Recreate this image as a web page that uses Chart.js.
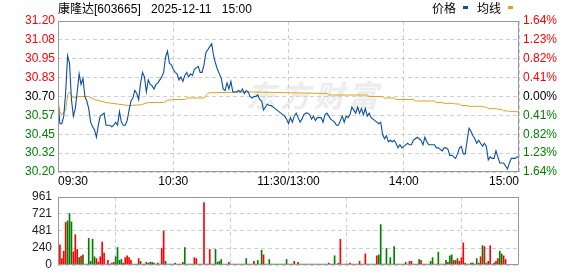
<!DOCTYPE html>
<html>
<head>
<meta charset="utf-8">
<script src="https://cdn.jsdelivr.net/npm/chart.js"></script>
<style>
html, body { margin: 0; padding: 0; background: #fff; }
#wrap { position: relative; width: 578px; height: 276px; overflow: hidden;
  font-family: "Liberation Sans", "Noto Sans CJK SC", sans-serif; font-size: 12px; color: #000; }
#wrap canvas { position: absolute; left: 0; }
#price { top: 0; }
#vol { top: 185px; }
.txt { position: absolute; line-height: 14px; white-space: pre; }
.mark { position: absolute; width: 5px; height: 3px; }
#wm { position: absolute; left: 246px; top: 72px; font: italic bold 30px "Noto Sans CJK SC"; color: #ededed; letter-spacing: 4px; }
</style>
</head>
<body>
<div id="wrap">
  <div id="wm">东方财富</div>
  <canvas id="price" width="578" height="190" style="width:578px;height:190px"></canvas>
  <canvas id="vol" width="578" height="92" style="width:578px;height:92px"></canvas>
  <div class="txt" id="title" style="left:58px;top:2px;word-spacing:7px"></div>
  <div class="txt" id="lg1" style="left:432px;top:2px"></div>
  <div class="mark" style="left:463px;top:6px;background:#0b4ea2"></div>
  <div class="txt" id="lg2" style="left:477px;top:2px"></div>
  <div class="mark" style="left:508px;top:6px;background:#e0a21c"></div>
</div>
<script>
var titleText = '康隆达[603665] 2025-12-11 15:00';
var seriesNames = ['价格', '均线'];

// minute index 0..240 (09:30-11:30, 13:00-15:00)
var timeTickPos = [0, 60, 120, 180, 240];
var timeLabels = ['09:30', '10:30', '11:30/13:00', '14:00', '15:00'];

// bottom to top
var priceTicks = ['30.20', '30.32', '30.45', '30.57', '30.70', '30.83', '30.95', '31.08', '31.20'];
var pctTicks = ['1.64%', '1.23%', '0.82%', '0.41%', '0.00%', '0.41%', '0.82%', '1.23%', '1.64%'];
var volTicks = [0, 240, 481, 721, 961];

var prices = [
  30.67,30.52,30.52,30.57,30.73,30.97,30.92,30.68,30.57,30.62,
  30.73,30.85,30.78,30.82,30.70,30.67,30.62,30.53,30.50,30.48,
  30.43,30.51,30.57,30.58,30.59,30.51,30.51,30.51,30.50,30.51,
  30.53,30.51,30.60,30.53,30.51,30.51,30.54,30.61,30.67,30.69,
  30.74,30.72,30.68,30.79,30.86,30.83,30.73,30.81,30.78,30.77,
  30.75,30.78,30.79,30.81,30.83,30.86,30.96,31.00,30.92,30.91,
  30.88,30.86,30.85,30.81,30.83,30.80,30.84,30.86,30.83,30.85,
  30.84,30.88,30.89,30.90,30.86,30.86,30.91,30.99,31.01,31.03,
  31.05,30.97,30.92,30.88,30.85,30.82,30.75,30.74,30.79,30.75,
  30.80,30.73,30.73,30.73,30.74,30.73,30.75,30.72,30.74,30.73,
  30.70,30.69,30.70,30.70,30.71,30.68,30.67,30.61,30.63,30.65,
  30.64,30.64,30.63,30.62,30.61,30.60,30.59,30.58,30.57,30.55,
  30.52,30.56,30.53,30.57,30.59,30.56,30.53,30.55,30.58,30.59,
  30.59,30.58,30.55,30.57,30.54,30.56,30.56,30.56,30.53,30.58,
  30.59,30.57,30.55,30.54,30.53,30.51,30.51,30.54,30.57,30.53,
  30.57,30.56,30.58,30.63,30.61,30.59,30.63,30.59,30.62,30.58,
  30.62,30.57,30.59,30.56,30.55,30.54,30.53,30.52,30.53,30.45,
  30.42,30.44,30.40,30.41,30.40,30.41,30.39,30.36,30.38,30.36,
  30.37,30.38,30.39,30.38,30.38,30.41,30.42,30.43,30.42,30.41,
  30.38,30.43,30.40,30.38,30.38,30.38,30.38,30.36,30.36,30.35,
  30.34,30.36,30.36,30.35,30.31,30.31,30.30,30.29,30.32,30.36,
  30.37,30.32,30.32,30.41,30.49,30.47,30.44,30.42,30.39,30.41,
  30.39,30.37,30.39,30.37,30.28,30.30,30.29,30.29,30.34,30.30,
  30.26,30.26,30.26,30.24,30.22,30.26,30.29,30.29,30.29,30.30,
  30.30
];

// average line, read where it changes
var avgMin = [0,1,2,4,5,6,8,11,16,19,25,31,37,43,47,55,57,60,66,67,76,78,79,100,120,
  140,141,161,162,169,170,175,176,185,186,196,197,200,201,206,207,209,210,213,214,
  221,222,223,224,228,229,231,232,234,235,239,240];
var avgVal = [30.67,30.60,30.58,30.61,30.71,30.73,30.69,30.70,30.70,30.68,30.66,30.65,30.64,30.645,30.66,30.66,30.675,30.68,30.68,30.69,30.69,30.72,30.725,30.73,30.725,
  30.72,30.71,30.71,30.70,30.70,30.69,30.69,30.68,30.68,30.67,30.67,30.66,30.66,30.655,30.655,30.65,30.65,30.64,30.64,30.635,
  30.635,30.63,30.63,30.62,30.62,30.615,30.615,30.605,30.605,30.60,30.60,30.59];

var volumes = [
  377,286,91,195,602,624,727,610,186,429,
  221,104,126,143,13,13,377,52,364,117,
  91,39,117,325,169,13,65,13,26,39,
  117,247,65,78,26,104,130,104,65,13,
  13,13,91,52,13,13,39,26,39,39,
  26,13,26,13,234,481,52,13,13,13,
  13,26,13,13,13,39,247,13,13,13,
  13,104,91,13,13,13,883,13,13,221,
  13,13,221,39,52,78,13,13,13,39,
  13,13,13,13,13,13,13,13,91,13,
  13,13,52,13,65,13,208,143,13,13,
  78,13,13,13,13,13,13,13,13,78,
  13,13,13,52,13,39,13,13,13,13,
  13,13,13,13,13,13,13,13,13,13,
  13,26,13,13,130,13,26,364,13,13,
  13,13,26,13,13,13,13,52,13,13,
  156,13,13,13,13,13,130,143,572,13,
  13,234,13,104,13,260,13,13,13,13,
  13,39,13,52,52,13,13,13,78,65,
  13,13,13,13,52,104,13,13,182,13,
  13,13,65,39,130,143,65,65,91,52,
  104,312,26,13,13,26,26,13,91,26,
  117,273,260,26,52,273,13,26,52,91,
  195,156,130,78,0,0,0,0,0,0,
  78
];

// 1 = minute closed up, 0 = down
var volUp = [
  0,1,1,1,1,0,0,0,1,1, 1,0,1,0,0,0,0,0,0,0, 1,1,1,1,1,0,1,0,1,1, 0,0,0,0,1,1,1,1,1,0,
  0,0,1,0,0,0,1,0,0,0, 1,0,1,1,1,1,0,0,0,0, 0,1,0,0,0,1,0,0,0,0, 0,1,1,0,0,1,1,1,1,1,
  0,0,0,0,0,0,0,0,1,1, 0,0,0,0,0,0,0,0,0,0, 1,0,1,1,0,1,0,1,0,0, 0,0,0,0,0,0,0,0,1,0,
  0,1,1,1,0,0,0,0,1,1, 1,0,0,0,0,1,1,1,1,1, 1,1,0,0,0,0,1,1,0,0, 0,0,1,1,0,0,0,1,0,0,
  1,0,0,0,0,0,1,0,0,0, 0,0,1,0,1,0,1,1,1,1, 1,0,1,1,1,0,1,0,0,1, 0,1,1,1,0,0,1,1,0,1,
  0,1,0,1,0,0,1,1,0,1, 1,1,0,0,0,1,1,0,0,1, 1,0,1,0,1,1,0,0,1,1, 0,0,1,1,0,0,0,0,0,0,
  1
];

var BLUE = '#0b4ea2', ORANGE = '#e0a21c', RED = '#ff0000', GREEN = '#008000';
var GRID = '#d0d0d0', FRAME = '#999999';
var FONT = { family: '"Liberation Sans", "Noto Sans CJK SC", sans-serif', size: 12, lineHeight: 1 };

document.getElementById('title').textContent = titleText;
document.getElementById('lg1').textContent = seriesNames[0];
document.getElementById('lg2').textContent = seriesNames[1];

var frame = {
  id: 'frame',
  afterDraw: function (c) {
    var a = c.chartArea, ctx = c.ctx;
    ctx.save();
    ctx.strokeStyle = FRAME;
    ctx.lineWidth = 1;
    ctx.strokeRect(Math.round(a.left) + 0.5, Math.round(a.top) + 0.5,
      Math.round(a.right - a.left) - 1, Math.round(a.bottom - a.top) - 1);
    ctx.restore();
  }
};

function evenTicks(labels) {
  return function (s) {
    var step = (s.max - s.min) / (labels.length - 1);
    s.ticks = labels.map(function (l, k) { return { value: s.min + k * step }; });
  };
}
// below the previous close green, above red
function sideColor(ctx) {
  if (ctx.index > 4) return RED;
  if (ctx.index == 4) return '#000';
  return GREEN;
}

new Chart(document.getElementById('price'), {
  type: 'line',
  data: {
    datasets: [{
      label: seriesNames[0],
      data: prices.map(function (p, i) { return { x: i, y: p }; }),
      borderColor: BLUE, borderWidth: 1.1, pointRadius: 0, yAxisID: 'y'
    }, {
      label: seriesNames[1],
      data: avgMin.map(function (m, k) { return { x: m, y: avgVal[k] }; }),
      borderColor: ORANGE, borderWidth: 1, pointRadius: 0, yAxisID: 'y'
    }]
  },
  options: {
    responsive: false, animation: false, events: [],
    layout: { padding: { top: 21, left: 0, right: 0, bottom: 0 } },
    plugins: { legend: { display: false }, tooltip: { enabled: false } },
    scales: {
      x: {
        type: 'linear', min: 0, max: 240,
        afterBuildTicks: function (s) { s.ticks = timeTickPos.map(function (v) { return { value: v }; }); },
        afterFit: function (s) { s.height = 18; },
        ticks: { autoSkip: false, maxRotation: 0, align: 'inner', padding: 4, color: '#000', font: FONT,
          callback: function (v, i) { return timeLabels[i]; } },
        grid: { color: GRID, drawTicks: false },
        border: { display: false, dash: [4, 3] }
      },
      y: {
        position: 'left', min: 30.20, max: 31.20,
        afterBuildTicks: evenTicks(priceTicks),
        afterFit: function (s) { s.width = 58; },
        ticks: { autoSkip: false, padding: 3, font: FONT, color: sideColor,
          callback: function (v, i) { return priceTicks[i]; } },
        grid: { color: GRID, drawTicks: false },
        border: { display: false, dash: [4, 3] }
      },
      y2: {
        position: 'right', min: 30.20, max: 31.20,
        afterBuildTicks: evenTicks(pctTicks),
        afterFit: function (s) { s.width = 59; },
        ticks: { autoSkip: false, padding: 4, font: FONT, color: sideColor,
          callback: function (v, i) { return pctTicks[i]; } },
        grid: { display: false, drawTicks: false },
        border: { display: false }
      }
    }
  },
  plugins: [frame]
});

// the y axis labels keep 12px free above and below the plot (half label + padding)
new Chart(document.getElementById('vol'), {
  type: 'bar',
  data: {
    datasets: [{
      data: volumes.map(function (v, i) { return { x: i, y: v }; }),
      backgroundColor: volUp.map(function (u) { return u ? RED : GREEN; }),
      barThickness: 1
    }]
  },
  options: {
    responsive: false, animation: false, events: [],
    layout: { padding: { top: 0, left: 0, right: 59, bottom: 0 } },
    plugins: { legend: { display: false }, tooltip: { enabled: false } },
    scales: {
      x: {
        type: 'linear', min: 0, max: 240, offset: false,
        afterBuildTicks: function (s) { s.ticks = timeTickPos.map(function (v) { return { value: v }; }); },
        afterFit: function (s) { s.height = 0; },
        ticks: { display: false },
        grid: { color: GRID, drawTicks: false },
        border: { display: false, dash: [4, 3] }
      },
      y: {
        min: 0, max: 961,
        afterBuildTicks: function (s) { s.ticks = volTicks.map(function (v) { return { value: v }; }); },
        afterFit: function (s) { s.width = 58; },
        ticks: { autoSkip: false, padding: 6, font: FONT, color: '#222',
          callback: function (v, i) { return String(volTicks[i]); } },
        grid: { color: GRID, drawTicks: false },
        border: { display: false, dash: [4, 3] }
      }
    }
  },
  plugins: [frame]
});
</script>
</body>
</html>
